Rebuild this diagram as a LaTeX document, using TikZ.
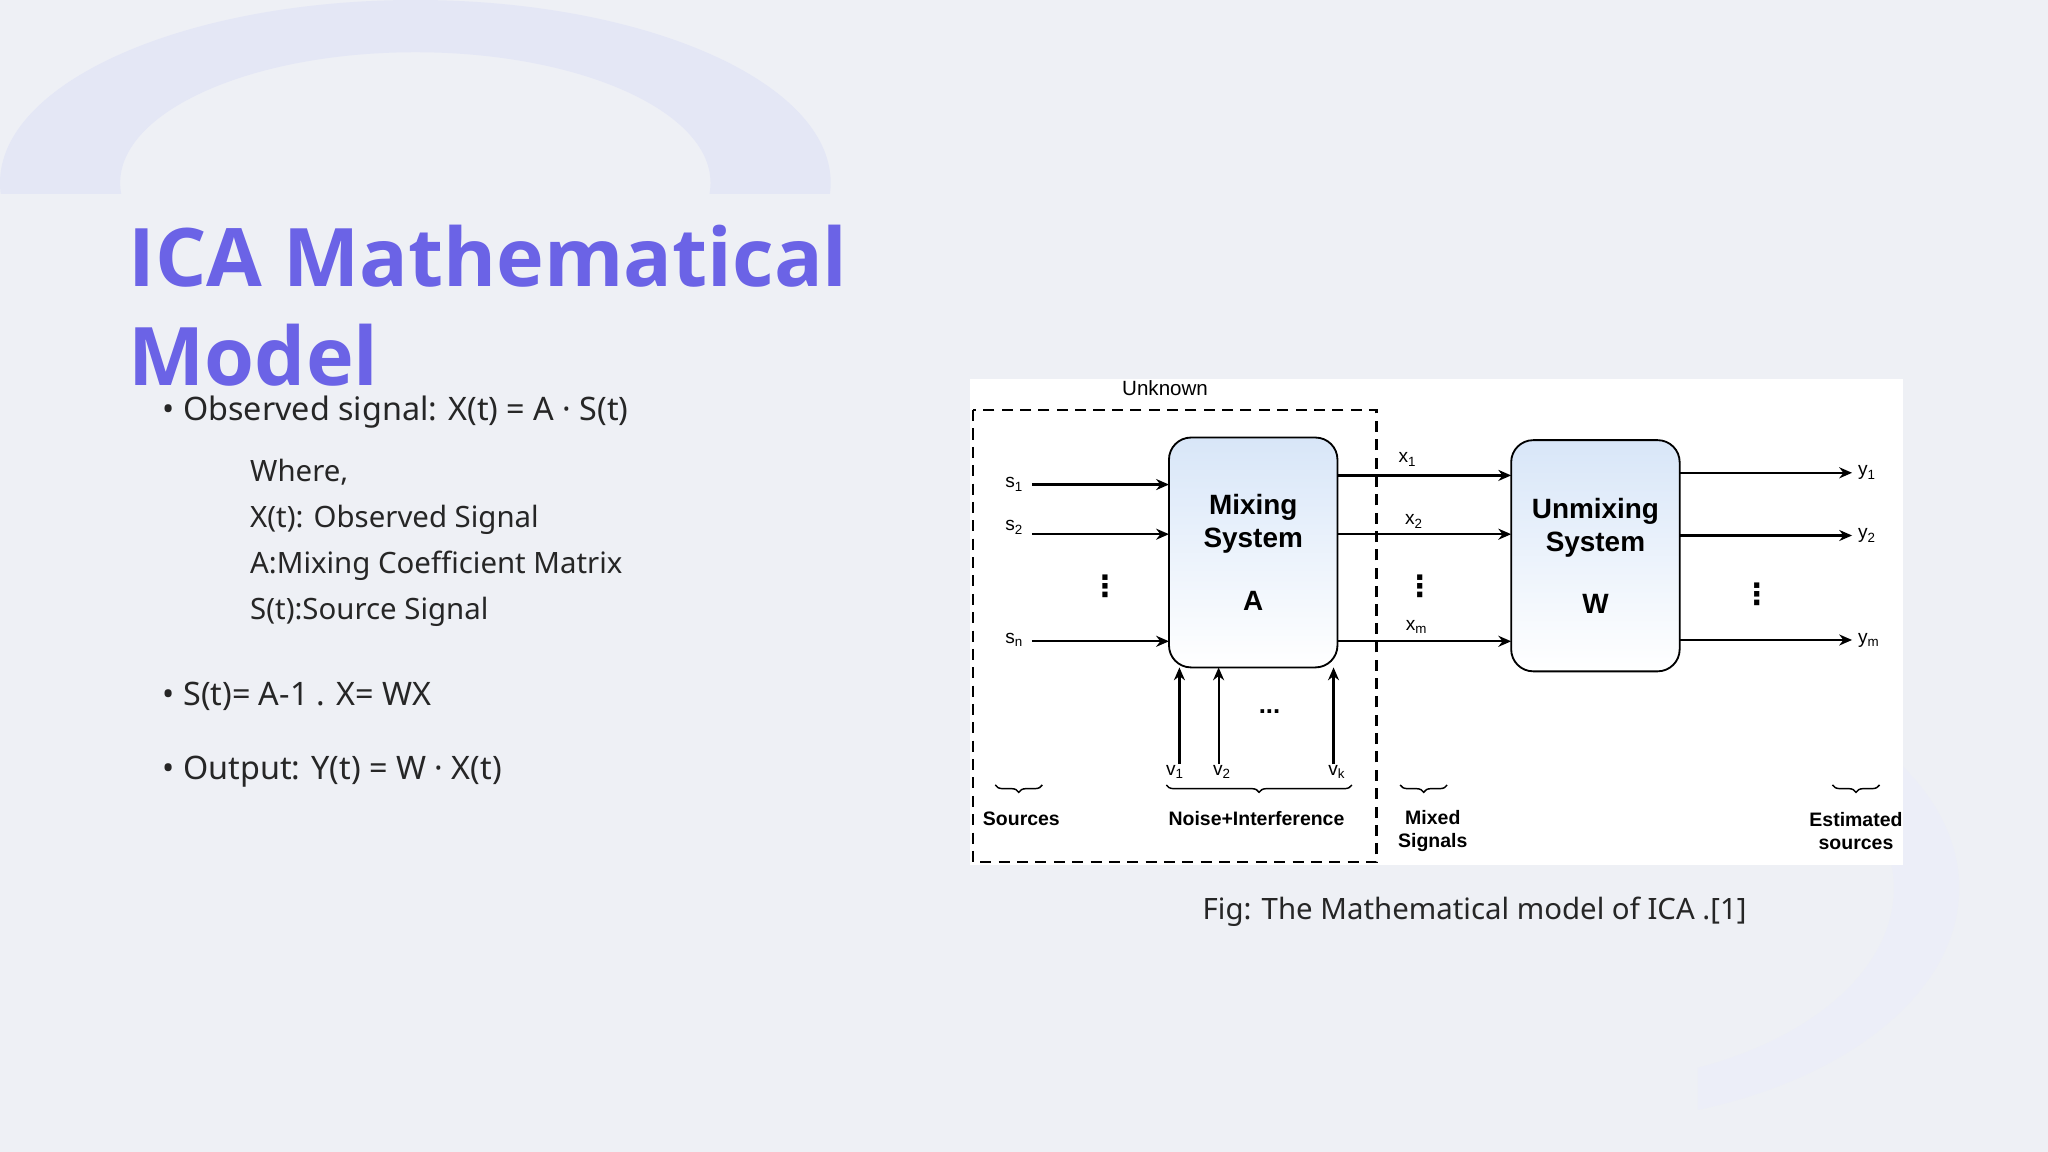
\documentclass[tikz,border=0pt]{standalone}
\usepackage{fontspec}
\setmainfont{Noto Sans}
\newfontfamily\arialf{Liberation Sans}
\newfontfamily\titlef{Open Sans}
\newfontfamily\djv{DejaVu Sans}
\usetikzlibrary{arrows.meta,decorations.pathreplacing}
\definecolor{bg}{HTML}{EEF0F5}
\definecolor{deco}{HTML}{E4E7F5}
\definecolor{titlec}{HTML}{6B63E6}
\definecolor{boxtop}{HTML}{D8E6F8}
\tikzset{
  body/.style={anchor=base west,inner sep=0pt,font=\fontsize{8.8pt}{10pt}\selectfont,text=black!85},
  sub/.style={anchor=base west,inner sep=0pt,font=\fontsize{8pt}{10pt}\selectfont,text=black!85},
  lbl/.style={inner sep=0pt,font=\arialf\fontsize{5.2pt}{6pt}\selectfont},
  dts/.style={inner sep=0pt,font=\djv\bfseries\fontsize{8pt}{8pt}\selectfont},
  blbl/.style={inner sep=0pt,align=center,font=\arialf\bfseries\fontsize{5.3pt}{6.2pt}\selectfont},
  sys/.style={draw,rounded corners=6pt,top color=boxtop,bottom color=white,line width=0.5pt,align=center,font=\arialf\bfseries\fontsize{7.6pt}{9pt}\selectfont},
  arr/.style={-{Stealth[length=3.5pt,width=3pt]},line width=0.6pt},
  br/.style={decorate,decoration={brace,mirror,amplitude=2pt},line width=0.4pt},
}
\begin{document}
\begin{tikzpicture}[x=0.0125cm,y=-0.0125cm]
\fill[bg] (0,0) rectangle (1568,882);
\useasboundingbox (0,0) rectangle (1568,882);
\begin{scope}
\clip (0,0) rectangle (700,148);
\fill[deco,even odd rule] (318,140) ellipse [x radius=318,y radius=140] (318,140) ellipse [x radius=226,y radius=100];
\end{scope}
\begin{scope}
\clip (1300,480) rectangle (1568,882);
\fill[deco!70,even odd rule] (1200,680) ellipse [x radius=300,y radius=180] (1200,680) ellipse [x radius=250,y radius=150];
\end{scope}
% title
\node[anchor=base west,inner sep=0pt,text=titlec,font=\titlef\bfseries\fontsize{22pt}{26pt}\selectfont] (t1) at (98,219) {ICA Mathematical};
\node[anchor=base west,inner sep=0pt,text=titlec,font=\titlef\bfseries\fontsize{22pt}{26pt}\selectfont] (t2) at (98,295) {Model};
% body
\node[body] (b1) at (124,322) {\textbullet\ Observed signal: X(t) = A · S(t)};
\node[sub] (w1) at (191,369) {Where,};
\node[sub] (w2) at (191,404) {X(t): Observed Signal};
\node[sub] (w3) at (191,439) {A:Mixing Coefficient Matrix};
\node[sub] (w4) at (191,474) {S(t):Source Signal};
\node[body] (b2) at (124,540) {\textbullet\ S(t)= A-1 . X= WX};
\node[body] (b3) at (124,597) {\textbullet\ Output: Y(t) = W · X(t)};
% diagram
\fill[white] (743,290) rectangle (1457,662);
\draw[dashed,line width=0.7pt,dash pattern=on 3pt off 2pt] (745,314) rectangle (1054,660);
\node[lbl,font=\arialf\fontsize{5.6pt}{6pt}\selectfont] (unk) at (892,297) {Unknown};
\node[sys,minimum width=129*0.0125cm,minimum height=176*0.0125cm] (A) at (959.5,423) {Mixing\\System\\[8pt]A};
\node[sys,minimum width=129*0.0125cm,minimum height=177*0.0125cm] (W) at (1221.5,425.5) {Unmixing\\System\\[8pt]W};
% inputs
\node[lbl] (s1) at (777,371) {s\textsubscript{1}};
\node[lbl] (s2) at (777,404) {s\textsubscript{2}};
\node[lbl] (sn) at (777,490) {s\textsubscript{n}};
\coordinate (s1e) at (895,371); \coordinate (s2e) at (895,409); \coordinate (sne) at (895,491);
\draw[arr] (790,371) -- (s1e);
\draw[arr] (790,409) -- (s2e);
\draw[arr] (790,491) -- (sne);
\node[dts] (d1) at (846,449) {⋮};
% mixed
\coordinate (x1s) at (1024,364); \coordinate (x2s) at (1024,409); \coordinate (xms) at (1024,491);
\draw[arr] (x1s) -- (1157,364);
\draw[arr] (x2s) -- (1157,409);
\draw[arr] (xms) -- (1157,491);
\node[lbl] (x1) at (1078,352) {x\textsubscript{1}};
\node[lbl] (x2) at (1083,399) {x\textsubscript{2}};
\node[lbl] (xm) at (1085,480) {x\textsubscript{m}};
\node[dts] (d2) at (1087,449) {⋮};
% outputs
\coordinate (y1e) at (1418,362); \coordinate (y2e) at (1418,410); \coordinate (yme) at (1418,490);
\draw[arr] (1286,362) -- (y1e);
\draw[arr] (1286,410) -- (y2e);
\draw[arr] (1286,490) -- (yme);
\node[lbl,anchor=west] (y1) at (1422,362) {y\textsubscript{1}};
\node[lbl,anchor=west] (y2) at (1422,410) {y\textsubscript{2}};
\node[lbl,anchor=west] (ym) at (1422,490) {y\textsubscript{m}};
\node[dts] (d3) at (1345,455) {⋮};
% noise
\draw[arr] (903,585) -- (903,511);
\draw[arr] (933,585) -- (933,511);
\draw[arr] (1021,585) -- (1021,511);
\node[lbl] (v1) at (900,591) {v\textsubscript{1}};
\node[lbl] (v2) at (936,591) {v\textsubscript{2}};
\node[lbl] (vk) at (1024,591) {v\textsubscript{k}};
\node[lbl,font=\arialf\bfseries\fontsize{7pt}{7pt}\selectfont] (d4) at (972,545) {...};
% braces
\draw[br] (762,601) -- (798,601);
\draw[br] (893,601) -- (1035,601);
\draw[br] (1072,601) -- (1108,601);
\draw[br] (1403,601) -- (1439,601);
\node[blbl] (src) at (782,627) {Sources};
\node[blbl] (ni) at (962,627) {Noise+Interference};
\node[blbl] (mix) at (1097,636) {Mixed\\Signals};
\node[blbl] (est) at (1421,636) {Estimated\\sources};
\node[inner sep=0pt,font=\fontsize{8pt}{9pt}\selectfont,text=black!85] (cap) at (1129,698) {Fig: The Mathematical model of ICA .[1]};
\end{tikzpicture}
\end{document}
